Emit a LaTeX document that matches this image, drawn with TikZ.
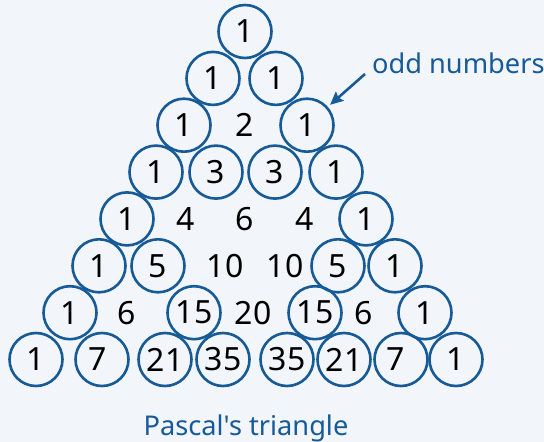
\documentclass[tikz,border=0pt]{standalone}
\usepackage{fontspec}
\setmainfont{Noto Sans}
\newfontfamily\lblfont{Noto Sans}[Ligatures=TeXOff]
\usetikzlibrary{arrows.meta}
\definecolor{bg}{RGB}{242,245,249}
\definecolor{pblue}{RGB}{22,90,152}
\tikzset{
  oddc/.style={circle,draw=pblue,line width=2.6pt,minimum size=53pt,inner sep=0pt,font=\fontsize{32}{32}\selectfont},
  evenn/.style={inner sep=0pt,font=\fontsize{32}{32}\selectfont},
  lbl/.style={text=pblue,font=\lblfont\fontsize{27.2}{27.2}\selectfont,inner sep=0pt},
  arr/.style={draw=pblue,line width=2.6pt,-{Stealth[length=13pt,width=12pt,inset=2pt]},shorten >=3pt}
}
\begin{document}
\begin{tikzpicture}[x=1pt,y=-1pt]
\fill[bg] (0,0) rectangle (544,442);
\useasboundingbox (0,0) rectangle (544,442);
% row 0
\node[oddc] (r0a) at (245,31.5) {1};
% row 1
\node[oddc] (r1a) at (213,78.4) {1};
\node[oddc] (r1b) at (276,78.4) {1};
% row 2
\node[oddc] (r2a) at (184,125.2) {1};
\node[evenn] (r2b) at (245,125.2) {2};
\node[oddc] (r2c) at (307,125.2) {1};
% row 3
\node[oddc] (r3a) at (156,172.1) {1};
\node[oddc] (r3b) at (216,172.1) {3};
\node[oddc] (r3c) at (275,172.1) {3};
\node[oddc] (r3d) at (336,172.1) {1};
% row 4
\node[oddc] (r4a) at (127,218.9) {1};
\node[evenn] (r4b) at (186,218.9) {4};
\node[evenn] (r4c) at (245,218.9) {6};
\node[evenn] (r4d) at (305,218.9) {4};
\node[oddc] (r4e) at (366,218.9) {1};
% row 5
\node[oddc] (r5a) at (99,265.8) {1};
\node[oddc] (r5b) at (158,265.8) {5};
\node[evenn] (r5c) at (225,265.8) {10};
\node[evenn] (r5d) at (285,265.8) {10};
\node[oddc] (r5e) at (338,265.8) {5};
\node[oddc] (r5f) at (395,265.8) {1};
% row 6
\node[oddc] (r6a) at (70,312.7) {1};
\node[evenn] (r6b) at (127,312.7) {6};
\node[oddc] (r6c) at (194,312.7) {15};
\node[evenn] (r6d) at (253,312.7) {20};
\node[oddc] (r6e) at (315,312.7) {15};
\node[evenn] (r6f) at (364,312.7) {6};
\node[oddc] (r6g) at (425,312.7) {1};
% row 7
\node[oddc] (r7a) at (36,359.5) {1};
\node[oddc] (r7b) at (102,359.5) {\hspace*{-9pt}7};
\node[oddc] (r7c) at (165,359.5) {21};
\node[oddc] (r7d) at (223,359.5) {35};
\node[oddc] (r7e) at (287,359.5) {35};
\node[oddc] (r7f) at (344,359.5) {21};
\node[oddc] (r7g) at (401,359.5) {\hspace*{-11pt}7};
\node[oddc] (r7h) at (456,359.5) {1};
% labels
\node[lbl,anchor=base west] (odd) at (372,73) {odd numbers};
\node[lbl,anchor=base] (title) at (246,435) {Pascal's triangle};
\coordinate (atail) at (365,74);
\draw[arr] (atail) -- (r2c);
\end{tikzpicture}
\end{document}
